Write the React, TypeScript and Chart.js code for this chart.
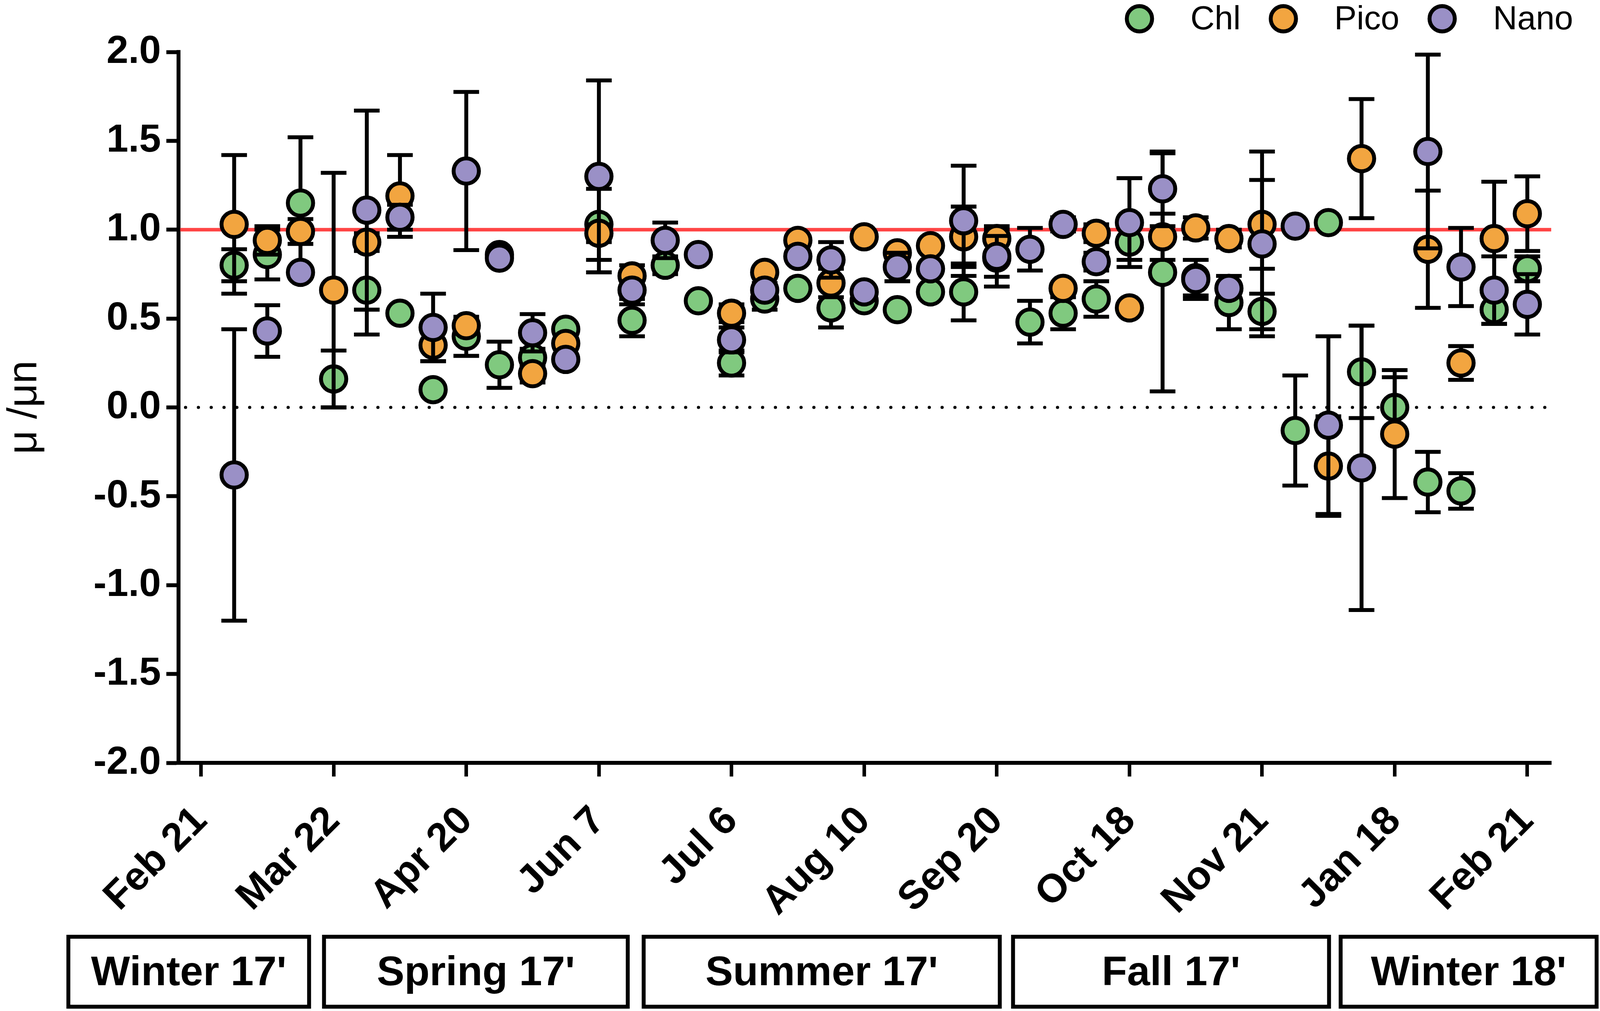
import { useEffect, useRef } from "react";
import { Chart, registerables } from "chart.js";
import type { Plugin } from "chart.js";

Chart.register(...registerables);

// x positions are sampling slots, 4 slots between labelled dates
const slots = [
  1, 2, 3, 4, 5, 6, 7, 8, 9, 10, 11, 12, 13, 14, 15, 16, 17, 18, 19, 20,
  21, 22, 23, 24, 25, 26, 27, 28, 29, 30, 31, 32, 33, 34, 35, 36, 37, 38, 39, 40,
];
const tickSlots = [0, 4, 8, 12, 16, 20, 24, 28, 32, 36, 40];
const tickLabels = [
  "Feb 21", "Mar 22", "Apr 20", "Jun 7", "Jul 6", "Aug 10",
  "Sep 20", "Oct 18", "Nov 21", "Jan 18", "Feb 21",
];
const yTicks = [-2, -1.5, -1, -0.5, 0, 0.5, 1, 1.5, 2];

const seriesNames = ["Chl", "Pico", "Nano"];
const seriesColors = ["#80c97f", "#f2a540", "#9a90c6"];

const chl = [
  0.8, 0.86, 1.15, 0.16, 0.66, 0.53, 0.1, 0.4, 0.24, 0.28, 0.44, 1.03, 0.49, 0.8, 0.6, 0.25, 0.61, 0.67, 0.56, 0.6,
  0.55, 0.65, 0.65, 0.84, 0.48, 0.53, 0.61, 0.93, 0.76, 0.73, 0.59, 0.54, -0.13, 1.04, 0.2, 0.0, -0.42, -0.47, 0.55, 0.78,
];
const chlErr = [
  0.09, 0.14, 0.37, 0.16, 0.25, 0, 0, 0.11, 0.13, 0.05, 0.03, 0.2, 0.09, 0.05, 0, 0.07, 0.06, 0, 0.11, 0,
  0, 0, 0.16, 0.16, 0.12, 0.09, 0.1, 0.1, 0.67, 0.1, 0.15, 0.1, 0.31, 0, 0.26, 0.17, 0.17, 0.1, 0.08, 0.07,
];
const pico = [
  1.03, 0.94, 0.99, 0.66, 0.93, 1.19, 0.35, 0.46, 0.86, 0.19, 0.36, 0.98, 0.74, null, null, 0.53, 0.76, 0.94, 0.7, 0.96,
  0.87, 0.91, 0.96, 0.95, null, 0.67, 0.98, 0.56, 0.96, 1.01, 0.95, 1.03, null, -0.33, 1.4, -0.15, 0.89, 0.25, 0.95, 1.09,
];
const picoErr = [
  0.39, 0.08, 0.07, 0.66, 0.05, 0.23, 0.09, 0.03, 0, 0.05, 0.03, 0.05, 0.06, null, null, 0.05, 0.03, 0, 0.08, 0,
  0.03, 0.03, 0.17, 0.07, null, 0, 0.05, 0, 0.13, 0.06, 0.05, 0.25, null, 0.28, 0.335, 0.36, 0.33, 0.095, 0.32, 0.21,
];
const nano = [
  -0.38, 0.43, 0.76, null, 1.11, 1.07, 0.45, 1.33, 0.84, 0.42, 0.27, 1.3, 0.66, 0.94, 0.86, 0.38, 0.66, 0.85, 0.83, 0.65,
  0.79, 0.78, 1.05, 0.85, 0.89, 1.03, 0.82, 1.04, 1.23, 0.72, 0.67, 0.92, 1.02, -0.1, -0.34, null, 1.44, 0.79, 0.66, 0.58,
];
const nanoErr = [
  0.82, 0.145, 0.03, null, 0.56, 0.07, 0.19, 0.445, 0.02, 0.105, 0.03, 0.54, 0.05, 0.1, 0.02, 0.07, 0.04, 0, 0.1, 0,
  0.08, 0.02, 0.31, 0.115, 0.12, 0.04, 0.05, 0.25, 0.21, 0.11, 0.03, 0.52, 0, 0.5, 0.8, null, 0.545, 0.22, 0.19, 0.17,
];

const seasons = ["Winter 17'", "Spring 17'", "Summer 17'", "Fall 17'", "Winter 18'"];
const seasonStart = [-4.0, 3.71, 13.35, 24.49, 34.37];
const seasonEnd = [3.26, 12.87, 24.09, 34.02, 42.09];

const refLine = 1;
const zeroLine = 0;

// layout in reference pixels (4492 x 2587), scaled to the real canvas
const REF_W = 4492;
const REF_H = 2587;
const PLOT_LEFT = 501;
const PLOT_TOP = 133;
const PLOT_BOTTOM = 1952;
const RIGHT_PAD = 137;
const FONT = '"Liberation Sans", Arial, Helvetica, sans-serif';

function makeOverlay(k: number, ky: number): Plugin<"scatter"> {
  return {
    id: "overlay",
    beforeDatasetsDraw(chart) {
      const { ctx, chartArea, scales } = chart;
      const y1 = scales.y.getPixelForValue(refLine);
      const y0 = scales.y.getPixelForValue(zeroLine);
      ctx.save();
      ctx.strokeStyle = "#ff4444";
      ctx.lineWidth = 10 * k;
      ctx.beginPath();
      ctx.moveTo(chartArea.left + 5 * k, y1);
      ctx.lineTo(chartArea.right, y1);
      ctx.stroke();

      ctx.strokeStyle = "#000";
      ctx.lineWidth = 9 * k;
      ctx.lineCap = "round";
      ctx.setLineDash([0, 36 * k]);
      ctx.beginPath();
      ctx.moveTo(chartArea.left + 20 * k, y0);
      ctx.lineTo(chartArea.right, y0);
      ctx.stroke();
      ctx.restore();
    },
    beforeDatasetDraw(chart, args) {
      // error bars of a series go under its own markers
      const { ctx, scales } = chart;
      const ds = chart.data.datasets[args.index] as any;
      const errs: (number | null)[] = ds.errors;
      const cap = 36 * k;
      ctx.save();
      ctx.strokeStyle = "#000";
      ctx.lineWidth = 11 * k;
      ds.data.forEach((p: { x: number; y: number | null }, i: number) => {
        const e = errs[i];
        if (p.y == null || !e) return;
        const x = scales.x.getPixelForValue(p.x);
        const yt = scales.y.getPixelForValue(p.y + e);
        const yb = scales.y.getPixelForValue(p.y - e);
        ctx.beginPath();
        ctx.moveTo(x, yt);
        ctx.lineTo(x, yb);
        ctx.moveTo(x - cap, yt);
        ctx.lineTo(x + cap, yt);
        ctx.moveTo(x - cap, yb);
        ctx.lineTo(x + cap, yb);
        ctx.stroke();
      });
      ctx.restore();
    },
    afterDraw(chart) {
      const { ctx, scales } = chart;
      ctx.save();

      // season boxes under the axis
      const top = chart.height - 190 * ky;
      const bottom = chart.height - 11 * ky;
      ctx.strokeStyle = "#000";
      ctx.lineWidth = 11 * k;
      ctx.fillStyle = "#000";
      ctx.font = `bold ${116 * k}px ${FONT}`;
      ctx.textAlign = "center";
      ctx.textBaseline = "middle";
      seasons.forEach((name, i) => {
        const l = scales.x.getPixelForValue(seasonStart[i]);
        const r = scales.x.getPixelForValue(seasonEnd[i]);
        ctx.strokeRect(l, top, r - l, bottom - top);
        ctx.fillText(name, (l + r) / 2, (top + bottom) / 2 + 6 * k);
      });

      // legend, top right
      ctx.font = `${94 * k}px ${FONT}`;
      ctx.textAlign = "left";
      let x = chart.chartArea.right - 1156 * k;
      const y = 48 * ky;
      seriesNames.forEach((name, i) => {
        ctx.beginPath();
        ctx.arc(x, y, 35.5 * k, 0, Math.PI * 2);
        ctx.fillStyle = seriesColors[i];
        ctx.fill();
        ctx.lineWidth = 11 * k;
        ctx.stroke();
        ctx.fillStyle = "#000";
        ctx.fillText(name, x + 143 * k, y + 4 * k);
        x += 143 * k + ctx.measureText(name).width + 120 * k;
      });
      ctx.restore();
    },
  };
}

export default function App() {
  const wrapRef = useRef<HTMLDivElement>(null);
  const canvasRef = useRef<HTMLCanvasElement>(null);
  const chartRef = useRef<Chart<"scatter"> | null>(null);

  useEffect(() => {
    if (!canvasRef.current || !wrapRef.current) return;
    if (chartRef.current) chartRef.current.destroy();

    // horizontal sizes follow the width, vertical positions follow the height
    const k = wrapRef.current.clientWidth / REF_W;
    const ky = wrapRef.current.clientHeight / REF_H;

    Chart.defaults.font.family = FONT;
    Chart.defaults.color = "#000";

    const series = [
      { values: chl, errors: chlErr, order: 3 },
      { values: pico, errors: picoErr, order: 2 },
      { values: nano, errors: nanoErr, order: 1 },
    ];

    chartRef.current = new Chart(canvasRef.current, {
      type: "scatter",
      data: {
        datasets: series.map((s, i) => ({
          label: seriesNames[i],
          data: slots.map((x, j) => ({ x, y: s.values[j] })),
          errors: s.errors,
          order: s.order,
          pointRadius: 35.5 * k,
          pointHoverRadius: 35.5 * k,
          pointBorderWidth: 11 * k,
          pointHoverBorderWidth: 11 * k,
          pointBorderColor: "#000",
          pointBackgroundColor: seriesColors[i],
          showLine: false,
        })) as any,
      },
      options: {
        animation: false,
        responsive: true,
        maintainAspectRatio: false,
        events: [],
        layout: { padding: { top: PLOT_TOP * ky, right: RIGHT_PAD * k, left: 0, bottom: 0 } },
        plugins: {
          legend: { display: false },
          tooltip: { enabled: false },
        },
        scales: {
          x: {
            type: "linear",
            min: -0.68,
            max: 40.72,
            afterBuildTicks: (scale) => {
              scale.ticks = tickSlots.map((v) => ({ value: v }));
            },
            afterFit: (scale) => {
              scale.height = scale.chart.height - PLOT_BOTTOM * ky;
            },
            ticks: {
              autoSkip: false,
              minRotation: 45,
              maxRotation: 45,
              padding: 54 * ky,
              color: "#000",
              font: { size: 112 * k, weight: "bold" },
              callback: (v) => tickLabels[tickSlots.indexOf(Number(v))] ?? "",
            },
            grid: {
              drawOnChartArea: false,
              tickLength: 35 * ky,
              tickWidth: 10 * k,
              tickColor: "#000",
            },
            border: { display: true, color: "#000", width: 11 * k },
          },
          y: {
            min: -2,
            max: 2,
            afterBuildTicks: (scale) => {
              scale.ticks = yTicks.map((v) => ({ value: v }));
            },
            afterFit: (scale) => {
              scale.width = PLOT_LEFT * k;
            },
            ticks: {
              padding: 15 * k,
              color: "#000",
              font: { size: 110 * k, weight: "bold" },
              callback: (v) => Number(v).toFixed(1),
            },
            grid: {
              drawOnChartArea: false,
              tickLength: 34 * k,
              tickWidth: 10 * ky,
              tickColor: "#000",
            },
            border: { display: true, color: "#000", width: 11 * k },
            title: {
              display: true,
              text: "\u03bc /\u03bcn",
              color: "#000",
              font: { size: 116 * k },
              padding: 0,
            },
          },
        },
      },
      plugins: [makeOverlay(k, ky)],
    });

    return () => {
      if (chartRef.current) {
        chartRef.current.destroy();
        chartRef.current = null;
      }
    };
  }, []);

  return (
    <div
      ref={wrapRef}
      style={{ position: "fixed", left: 0, top: 0, width: "100vw", height: "100vh", background: "#fff" }}
    >
      <canvas ref={canvasRef}></canvas>
    </div>
  );
}
